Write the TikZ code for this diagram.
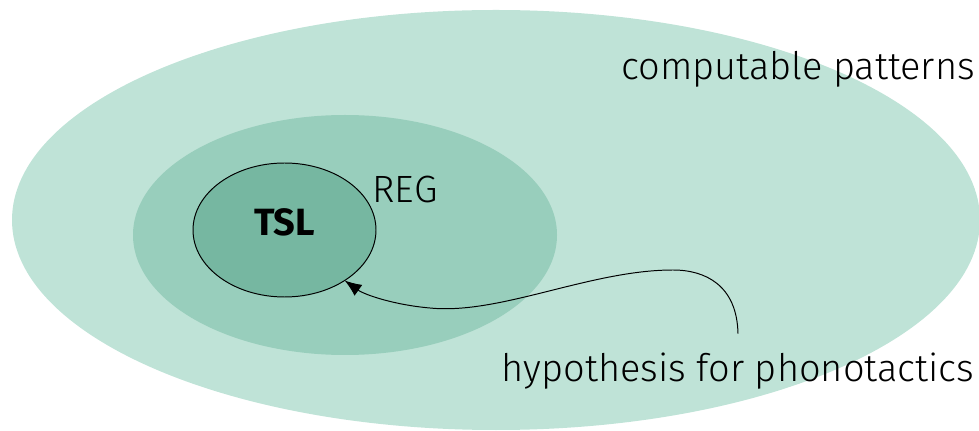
\documentclass[tikz,border=0pt]{standalone}
\usepackage{fontspec}
\setmainfont{Fira Sans}[UprightFont={* Light},BoldFont={* Bold}]
\usepackage{xcolor}
\definecolor{PaleGreen}{HTML}{BFE3D7}
\definecolor{MidGreen}{HTML}{98CEBC}
\definecolor{DeepGreen}{HTML}{76B7A1}
\usepackage{tikz}
\usetikzlibrary{shapes.geometric,arrows.meta,positioning}
\newcommand\Px{0.025cm}
\newcommand\TagSize{\fontsize{27}{32}\selectfont}
\tikzstyle{region}=[ellipse,inner sep=0pt,outer sep=0pt]
\tikzstyle{tag}=[font=\TagSize,inner sep=0pt,anchor=base]

\begin{document}
\begin{tikzpicture}[x=\Px,y=-\Px]
      \useasboundingbox (0,0) rectangle (979,431);
      \node[region,fill=PaleGreen,minimum width={968*\Px},minimum height={420*\Px}] (computable) at (496,220) {};
      \node[region,fill=MidGreen,minimum width={424*\Px},minimum height={240*\Px}] (reg) at (345,235) {};
      \node[region,fill=DeepGreen,draw=black,line width=0.7pt,minimum width={183*\Px},minimum height={134*\Px},
            font=\TagSize\bfseries,text depth=11pt] (tsl) at (284.5,230) {TSL};
      \node[tag] (computablelabel) at (798,80) {computable patterns};
      \node[tag] (reglabel) at (405,203) {REG};
      \node[tag,outer ysep=14pt] (hyp) at (738,382) {hypothesis for phonotactics};
      \draw[-{Latex[length=12pt,width=9.5pt]},line width=0.7pt] (hyp.north)
            .. controls (737,285) and (705,270) .. (673,270)
            .. controls (590,270) and (500,315) .. (430,308)
            .. controls (395,305) and (365,295) .. (tsl.-40);
   \end{tikzpicture}
\end{document}
